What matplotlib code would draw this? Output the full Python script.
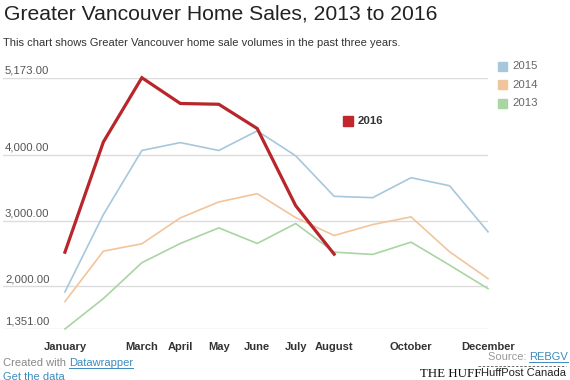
import matplotlib
matplotlib.use("Agg")
import matplotlib.pyplot as plt
from matplotlib.lines import Line2D
from matplotlib.patches import Rectangle

plt.rcParams['font.family'] = ['Liberation Sans', 'DejaVu Sans']

months = ["January", "February", "March", "April", "May", "June", "July",
          "August", "September", "October", "November", "December"]
shown_labels = ["January", "", "March", "April", "May", "June", "July",
                "August", "", "October", "", "December"]
sales_2013 = [1351, 1814, 2359, 2652, 2889, 2652, 2955, 2520, 2485, 2672, 2323, 1965]
sales_2014 = [1768, 2535, 2647, 3041, 3283, 3409, 3045, 2773, 2939, 3056, 2526, 2117]
sales_2015 = [1914, 3091, 4066, 4186, 4066, 4364, 3985, 3369, 3348, 3652, 3530, 2829]
sales_2016 = [2519, 4196, 5173, 4781, 4769, 4400, 3226, 2489]
y_ticks = [1351, 2000, 3000, 4000, 5173]
y_tick_labels = ["1,351.00", "2,000.00", "3,000.00", "4,000.00", "5,173.00"]

W, H = 570, 380
fig = plt.figure(figsize=(W / 100, H / 100), dpi=100)

def fx(px):
    return px / W

def fy(py):
    return 1 - py / H

# axes: left px 3 .. 488 ; y px 77.7 (5173) .. 329 (1351)
ax = fig.add_axes([fx(3), fy(329), (488 - 3) / W, (329 - 77.7) / H])
ax.set_xlim(-1.61, 11)
ax.set_ylim(1351, 5173)
for s in ax.spines.values():
    s.set_visible(False)
ax.set_xticks([])
ax.set_yticks([])
for t in y_ticks:
    ax.axhline(t, color="#dcdcdc", lw=1.0, zorder=0)

x = list(range(12))
ax.plot(x, sales_2013, color="#a9d5a3", lw=1.2, clip_on=False, zorder=2)
ax.plot(x, sales_2014, color="#f1c59c", lw=1.2, clip_on=False, zorder=2)
ax.plot(x, sales_2015, color="#a7c7dd", lw=1.2, clip_on=False, zorder=2)
ax.plot(x[:len(sales_2016)], sales_2016, color="#b8262b", lw=2.3,
        clip_on=False, zorder=3, solid_joinstyle="miter")

# y labels above gridlines
for t, lab in zip(y_ticks, y_tick_labels):
    ax.annotate(lab, xy=(0, t), xycoords=("axes fraction", "data"),
                xytext=(2, 2), textcoords="offset pixels",
                ha="left", va="bottom", fontsize=8.2, color="#555555")

# month labels
for i, lab in enumerate(shown_labels):
    if lab:
        ax.annotate(lab, xy=(i, 0), xycoords=("data", "axes fraction"),
                    xytext=(0, -18), textcoords="offset pixels",
                    ha="center", va="center", fontsize=8.0,
                    fontweight="bold", color="#333333")

# title & subtitle
fig.text(fx(4), fy(14), "Greater Vancouver Home Sales, 2013 to 2016",
         fontsize=15.2, color="#222222", ha="left", va="center")
fig.text(fx(3), fy(43), "This chart shows Greater Vancouver home sale volumes in the past three years.",
         fontsize=8.0, color="#333333", ha="left", va="center")

# legend (right)
leg = [("2015", "#a7c7dd", 66), ("2014", "#f1c59c", 84.5), ("2013", "#a9d5a3", 103)]
for lab, c, py in leg:
    fig.patches.append(Rectangle((fx(498), fy(py + 4.5)), 9 / W, 9 / H,
                                 transform=fig.transFigure, color=c))
    fig.text(fx(512), fy(py), lab, fontsize=8.2, color="#666666",
             ha="left", va="center")

# 2016 label
fig.patches.append(Rectangle((fx(343), fy(125.5)), 10 / W, 10 / H,
                             transform=fig.transFigure, color="#c0282d"))
fig.text(fx(358), fy(120.5), "2016", fontsize=8.2, fontweight="bold",
         color="#333333", ha="left", va="center")

# footer
renderer = fig.canvas.get_renderer()

def underline(txt, color):
    bb = txt.get_window_extent(renderer=renderer)
    yy = bb.y0 + 0.5
    fig.lines.append(Line2D([bb.x0 / W, bb.x1 / W], [yy / H, yy / H],
                            transform=fig.transFigure, color=color, lw=0.7))

t1 = fig.text(fx(3), fy(363), "Created with ", fontsize=8.0, color="#888888",
              ha="left", va="center")
bb = t1.get_window_extent(renderer=renderer)
t2 = fig.text(bb.x1 / W, fy(363), "Datawrapper", fontsize=8.0, color="#3b8bbd",
              ha="left", va="center")
underline(t2, "#3b8bbd")
t3 = fig.text(fx(3), fy(376.5), "Get the data", fontsize=8.0, color="#3b8bbd",
              ha="left", va="center")
underline(t3, "#3b8bbd")

t4 = fig.text(fx(568), fy(357), "REBGV", fontsize=8.0, color="#3b8bbd",
              ha="right", va="center")
underline(t4, "#3b8bbd")
bb4 = t4.get_window_extent(renderer=renderer)
fig.text(bb4.x0 / W, fy(357), "Source: ", fontsize=8.0, color="#999999",
         ha="right", va="center")

fig.text(fx(420), fy(374), "THE HUFF", fontsize=9.3, color="#111111",
         family="Liberation Serif", ha="left", va="center")
fig.text(fx(481), fy(373), "HuffPost Canada", fontsize=8.0, color="#222222",
         ha="left", va="center")
fig.lines.append(Line2D([fx(478), fx(566)], [fy(366), fy(366)],
                        transform=fig.transFigure, color="#555555", lw=0.6,
                        ls=(0, (3, 2))))

fig.savefig("out.png", dpi=100)
